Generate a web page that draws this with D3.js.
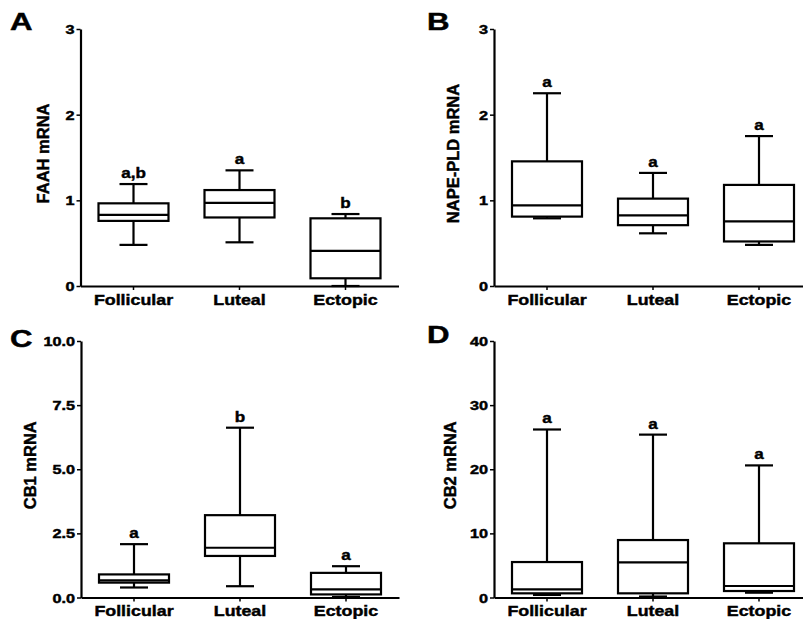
<!DOCTYPE html>
<html><head><meta charset="utf-8">
<script src="https://cdn.jsdelivr.net/npm/d3@7"></script>
<style>
html,body{margin:0;padding:0;background:#fff;}
text{font-family:"Liberation Sans",Arial,Helvetica,sans-serif;font-weight:bold;fill:#000;stroke:#000;stroke-width:0.45px;}
</style>
</head><body>
<svg id="chart" width="803" height="619"></svg>
<script>
const categories = ["Follicular", "Luteal", "Ectopic"];

const faahMin = [0.48, 0.51, 0.0];
const faahQ1  = [0.76, 0.80, 0.09];
const faahMed = [0.83, 0.97, 0.41];
const faahQ3  = [0.965, 1.12, 0.79];
const faahMax = [1.19, 1.35, 0.84];
const faahSig = ["a,b", "a", "b"];

const napeMin = [0.79, 0.615, 0.48];
const napeQ1  = [0.81, 0.71, 0.52];
const napeMed = [0.94, 0.825, 0.755];
const napeQ3  = [1.455, 1.02, 1.18];
const napeMax = [2.25, 1.32, 1.75];
const napeSig = ["a", "a", "a"];

const cb1Min = [0.39, 0.44, 0.02];
const cb1Q1  = [0.58, 1.62, 0.12];
const cb1Med = [0.67, 1.94, 0.32];
const cb1Q3  = [0.90, 3.21, 0.96];
const cb1Max = [2.08, 6.62, 1.22];
const cb1Sig = ["a", "b", "a"];

const cb2Min = [0.4, 0.15, 0.75];
const cb2Q1  = [0.65, 0.65, 1.01];
const cb2Med = [1.28, 5.49, 1.79];
const cb2Q3  = [5.53, 8.96, 8.45];
const cb2Max = [26.2, 25.4, 20.6];
const cb2Sig = ["a", "a", "a"];

const yTicksAB = [0, 1, 2, 3];
const yTicksC = [0, 2.5, 5, 7.5, 10];
const yTicksD = [0, 10, 20, 30, 40];

const svg = d3.select("#chart");

const panels = [
  {letter:"A", title:"FAAH mRNA", min:faahMin, q1:faahQ1, med:faahMed, q3:faahQ3, max:faahMax, sig:faahSig,
   domain:[0,3], ticks:yTicksAB, fmt:d3.format("d"), x0:80.5, top:29, bottom:286, lx:10, ly:30, tx:43},
  {letter:"B", title:"NAPE-PLD mRNA", min:napeMin, q1:napeQ1, med:napeMed, q3:napeQ3, max:napeMax, sig:napeSig,
   domain:[0,3], ticks:yTicksAB, fmt:d3.format("d"), x0:494, top:29, bottom:286, lx:427, ly:30, tx:453},
  {letter:"C", title:"CB1 mRNA", min:cb1Min, q1:cb1Q1, med:cb1Med, q3:cb1Q3, max:cb1Max, sig:cb1Sig,
   domain:[0,10], ticks:yTicksC, fmt:d3.format(".1f"), x0:81, top:341, bottom:597.5, lx:10, ly:347, tx:30},
  {letter:"D", title:"CB2 mRNA", min:cb2Min, q1:cb2Q1, med:cb2Med, q3:cb2Q3, max:cb2Max, sig:cb2Sig,
   domain:[0,40], ticks:yTicksD, fmt:d3.format("d"), x0:494, top:341, bottom:597.5, lx:427, ly:343, tx:450}
];

const bandW = 106;
const boxW = 70;
const capW = 28;
const SX = 1.3;
const LW = 2.2;

panels.forEach(p => {
  const g = svg.append("g");
  const y = d3.scaleLinear().domain(p.domain).range([p.bottom, p.top]);
  const x = d3.scaleBand().domain(categories).range([p.x0, p.x0 + 3*bandW]).padding(0);

  // panel letter
  g.append("text").attr("transform", `translate(${p.lx},${p.ly}) scale(${SX},1)`)
    .attr("font-size", 24).text(p.letter);

  // y axis title
  const cy = (p.top + p.bottom)/2 - 4;
  g.append("text").attr("transform", `translate(${p.tx + 6},${cy}) rotate(-90)`)
    .attr("text-anchor","middle").attr("font-size", 16.5).text(p.title);

  // y axis
  const ya = g.append("g").attr("transform", `translate(${p.x0},0)`)
    .call(d3.axisLeft(y).tickValues(p.ticks).tickFormat(p.fmt).tickSize(4).tickSizeOuter(0));
  ya.attr("font-family", null);
  ya.select(".domain").attr("stroke","#000").attr("stroke-width",LW);
  ya.selectAll(".tick line").attr("stroke","#000").attr("stroke-width",1.5);
  ya.selectAll(".tick text").attr("font-size",12.5)
    .attr("x", null).attr("dy", null)
    .attr("transform", `translate(-6,4.5) scale(${SX},1)`);

  // x axis
  const xa = g.append("g").attr("transform", `translate(0,${p.bottom})`)
    .call(d3.axisBottom(x).tickSize(4).tickSizeOuter(0));
  xa.attr("font-family", null);
  xa.select(".domain").attr("stroke","#000").attr("stroke-width",LW);
  xa.selectAll(".tick line").attr("stroke","#000").attr("stroke-width",1.5);
  xa.selectAll(".tick text").attr("font-size",15.5).attr("y",null).attr("dy",null)
    .attr("transform", `translate(0,18.5) scale(1.15,1)`);

  // boxes
  const data = categories.map((c,i) => ({c, min:p.min[i], q1:p.q1[i], med:p.med[i], q3:p.q3[i], max:p.max[i], sig:p.sig[i]}));
  const bx = g.append("g").selectAll("g").data(data).join("g")
    .attr("transform", d => `translate(${x(d.c) + x.bandwidth()/2},0)`);
  bx.append("line").attr("x1",0).attr("x2",0).attr("y1",d=>y(d.min)).attr("y2",d=>y(d.max))
    .attr("stroke","#000").attr("stroke-width",LW);
  bx.append("line").attr("x1",-capW/2).attr("x2",capW/2).attr("y1",d=>y(d.max)).attr("y2",d=>y(d.max))
    .attr("stroke","#000").attr("stroke-width",LW);
  bx.append("line").attr("x1",-capW/2).attr("x2",capW/2).attr("y1",d=>y(d.min)).attr("y2",d=>y(d.min))
    .attr("stroke","#000").attr("stroke-width",LW);
  bx.append("rect").attr("x",-boxW/2).attr("width",boxW)
    .attr("y",d=>y(d.q3)).attr("height",d=>y(d.q1)-y(d.q3))
    .attr("fill","#fff").attr("stroke","#000").attr("stroke-width",LW);
  bx.append("line").attr("x1",-boxW/2).attr("x2",boxW/2).attr("y1",d=>y(d.med)).attr("y2",d=>y(d.med))
    .attr("stroke","#000").attr("stroke-width",LW);
  bx.append("text").attr("text-anchor","middle").attr("font-size",15.5)
    .attr("transform", d => `translate(0,${y(d.max)-6}) scale(1.1,1)`).text(d=>d.sig);
});
</script>
</body></html>
